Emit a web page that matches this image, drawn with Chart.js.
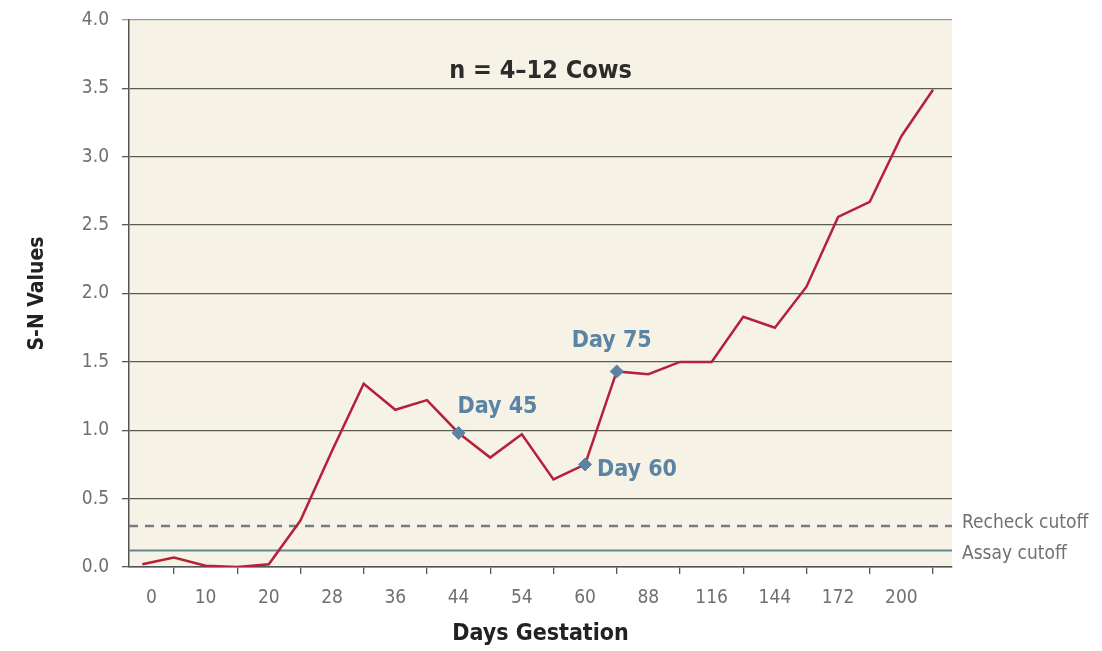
<!DOCTYPE html>
<html><head><meta charset="utf-8">
<script src="https://cdn.jsdelivr.net/npm/chart.js@4.4.0/dist/chart.umd.min.js"></script>
<style>html,body{margin:0;padding:0;background:#fff;overflow:hidden}#wrap{width:1102px;height:651px}</style>
</head><body><div id="wrap"><canvas id="c" width="1102" height="651"></canvas></div>
<script>
// ---- data ----
const dayLabels = ['0','10','20','28','36','44','54','60','88','116','144','172','200'];
const snValues = [0.02,0.07,0.01,0.00,0.02,0.34,0.85,1.34,1.15,1.22,0.98,0.80,0.97,0.64,0.75,1.43,1.41,1.50,1.50,1.83,1.75,2.05,2.56,2.67,3.15,3.49];
const markerIndex = [10,14,15];
const markerLabels = ['Day 45','Day 60','Day 75'];
const recheckCutoff = 0.30;
const assayCutoff = 0.12;
const yTickValues = [0,0.5,1,1.5,2,2.5,3,3.5,4];
const chartNote = 'n = 4\u201312 Cows';
const xTitle = 'Days Gestation';
const yTitle = 'S-N Values';
const cutoffNames = ['Recheck cutoff','Assay cutoff'];

// ---- layout/style ----
const X_MIN = -0.42, X_MAX = 25.6;
const NARROW = '"Liberation Sans Narrow","Arial Narrow","DejaVu Sans Condensed",sans-serif';
const markColor = '#5b84a4';
const labelOffsets = [{dx:-1,dy:-26,align:'left'},{dx:12,dy:6,align:'left'},{dx:-5,dy:-30,align:'center'}];

const tickMarkPositions = dayLabels.map((_, k) => 1 + 2*k);
const bounds = [X_MIN, ...tickMarkPositions];
const labelPositions = dayLabels.map((_, k) => (bounds[k] + bounds[k+1]) / 2);

const seriesData = snValues.map((v, i) => ({x: i, y: v}));
const markerData = markerIndex.map(i => ({x: i, y: snValues[i]}));

const bgPlugin = {
  id: 'bg',
  beforeDraw(chart) {
    const {ctx, chartArea: a} = chart;
    ctx.save();
    ctx.fillStyle = '#f6f3e6';
    ctx.fillRect(a.left, a.top, a.right - a.left, a.bottom - a.top);
    ctx.restore();
  },
  afterDraw(chart) {
    const {ctx, chartArea: a, scales} = chart;
    const xs = scales.x, ys = scales.y;
    ctx.save();
    ctx.font = 'bold 25px ' + NARROW;
    ctx.fillStyle = '#2b2b2b';
    ctx.textAlign = 'center';
    ctx.textBaseline = 'middle';
    ctx.fillText(chartNote, (a.left + a.right) / 2, a.top + 51);
    ctx.font = 'bold 23px ' + NARROW;
    ctx.fillStyle = markColor;
    markerIndex.forEach((idx, k) => {
      const o = labelOffsets[k];
      ctx.textAlign = o.align;
      ctx.fillText(markerLabels[k], xs.getPixelForValue(idx) + o.dx, ys.getPixelForValue(snValues[idx]) + o.dy);
    });
    ctx.font = '19px ' + NARROW;
    ctx.fillStyle = '#707070';
    ctx.textAlign = 'left';
    ctx.fillText(cutoffNames[0], a.right + 10, ys.getPixelForValue(recheckCutoff) - 3);
    ctx.fillText(cutoffNames[1], a.right + 10, ys.getPixelForValue(assayCutoff) + 3);
    ctx.restore();
  }
};

new Chart(document.getElementById('c'), {
  type: 'line',
  data: {
    datasets: [
      {label: 'S-N', data: seriesData, borderColor: '#b5203a', borderWidth: 2.5, pointRadius: 0, tension: 0, order: 1},
      {label: 'markers', data: markerData, showLine: false, pointStyle: 'rectRot', pointRadius: 6.5,
       pointBackgroundColor: markColor, pointBorderColor: markColor, order: 0},
      {label: 'recheck', data: [{x: X_MIN, y: recheckCutoff}, {x: X_MAX, y: recheckCutoff}], borderColor: '#737d83',
       borderWidth: 2.5, borderDash: [9, 7], pointRadius: 0, order: 2},
      {label: 'assay', data: [{x: X_MIN, y: assayCutoff}, {x: X_MAX, y: assayCutoff}], borderColor: '#5f8b90',
       borderWidth: 2, pointRadius: 0, order: 2}
    ]
  },
  options: {
    responsive: false,
    animation: false,
    devicePixelRatio: 1,
    layout: {padding: {left: 0, right: 150, top: 20, bottom: 0}},
    plugins: {legend: {display: false}, tooltip: {enabled: false}},
    scales: {
      x: {
        type: 'linear', position: 'bottom', min: X_MIN, max: X_MAX, weight: 0,
        afterBuildTicks: s => { s.ticks = tickMarkPositions.map(v => ({value: v})); },
        afterFit: s => { s.height = 8; },
        ticks: {display: false},
        grid: {drawOnChartArea: false, drawTicks: true, tickLength: 7, color: '#555', lineWidth: 1.3},
        border: {display: true, color: '#555', width: 1.5}
      },
      x2: {
        type: 'linear', position: 'bottom', min: X_MIN, max: X_MAX, weight: 1,
        afterBuildTicks: s => { s.ticks = labelPositions.map(v => ({value: v})); },
        afterFit: s => { s.height = 76; },
        ticks: {
          padding: 12, maxRotation: 0, autoSkip: false,
          color: '#707070', font: {family: NARROW, size: 19},
          callback: (v, i) => dayLabels[i]
        },
        grid: {display: false, drawTicks: false},
        border: {display: false},
        title: {display: true, text: xTitle, color: '#222', font: {family: NARROW, size: 23, weight: 'bold'},
                padding: {top: 0, bottom: 3}}
      },
      y: {
        type: 'linear', min: 0, max: 4,
        afterBuildTicks: s => { s.ticks = yTickValues.map(v => ({value: v})); },
        afterFit: s => { s.width = 129; },
        ticks: {padding: 13, color: '#707070', font: {family: NARROW, size: 19, lineHeight: 0.6}, callback: v => v.toFixed(1)},
        grid: {
          color: c => (c.tick && c.tick.value === 4) ? '#9c9c94' : '#5a5a50',
          lineWidth: 1.3, tickLength: 7, drawTicks: true
        },
        border: {display: true, color: '#555', width: 1.5},
        title: {display: true, text: yTitle, color: '#222', font: {family: NARROW, size: 21, weight: 'bold'},
                padding: {top: 25, bottom: 0}}
      }
    }
  },
  plugins: [bgPlugin]
});
</script>
</body></html>
